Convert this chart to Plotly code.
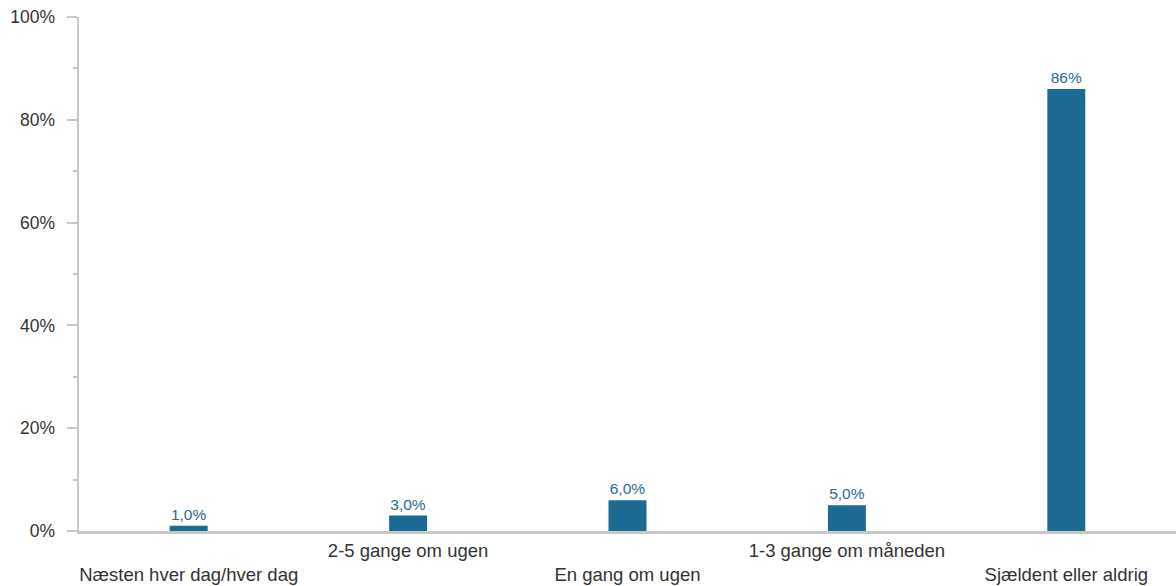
import plotly.graph_objects as go

categories = ["Næsten hver dag/hver dag", "2-5 gange om ugen", "En gang om ugen",
              "1-3 gange om måneden", "Sjældent eller aldrig"]
values = [1.0, 3.0, 6.0, 5.0, 86.0]
value_labels = ["1,0%", "3,0%", "6,0%", "5,0%", "86%"]
y_ticks = [0, 20, 40, 60, 80, 100]
y_tick_labels = ["0%", "20%", "40%", "60%", "80%", "100%"]

# stagger category labels: even-indexed ones on the second row
tick_text = [("<br>" + c) if i % 2 == 0 else c for i, c in enumerate(categories)]

BAR = "#1a6a94"
AXIS = "#c8c8c8"
FONT = "Liberation Sans, Arial, sans-serif"

fig = go.Figure(go.Bar(
    x=categories, y=values, text=value_labels, textposition="outside",
    marker=dict(color=BAR, line=dict(width=0)),
    textfont=dict(family=FONT, size=15.5, color="#2b6a90"),
    cliponaxis=False, hoverinfo="skip",
))

fig.update_layout(
    width=1176, height=586,
    margin=dict(l=79, r=0, t=17, b=55),
    paper_bgcolor="white", plot_bgcolor="white",
    bargap=0.827, showlegend=False,
    font=dict(family=FONT, size=17.5, color="#333333"),
)
fig.update_xaxes(
    tickmode="array", tickvals=categories, ticktext=tick_text,
    showline=True, linecolor=AXIS, linewidth=2.5, ticks="",
    showgrid=False, zeroline=False, tickangle=0, automargin=False,
    ticklabelstandoff=1,
    tickfont=dict(family=FONT, size=18.5, color="#333333"),
)
fig.update_yaxes(
    range=[0, 100], tickmode="array", tickvals=y_ticks, ticktext=y_tick_labels,
    showline=True, linecolor=AXIS, linewidth=2.5, automargin=False,
    ticks="outside", ticklen=10, tickcolor=AXIS, tickwidth=2,
    ticklabelstandoff=8,
    minor=dict(ticks="outside", ticklen=4, tickcolor=AXIS, tickwidth=2, dtick=10, tick0=0),
    showgrid=False, zeroline=False,
    tickfont=dict(family=FONT, size=17.5, color="#333333"),
)

fig.write_html(
    "out.html",
    config={"displayModeBar": False, "staticPlot": True},
    post_script="document.body.style.margin='0';document.body.style.overflow='hidden';",
)
